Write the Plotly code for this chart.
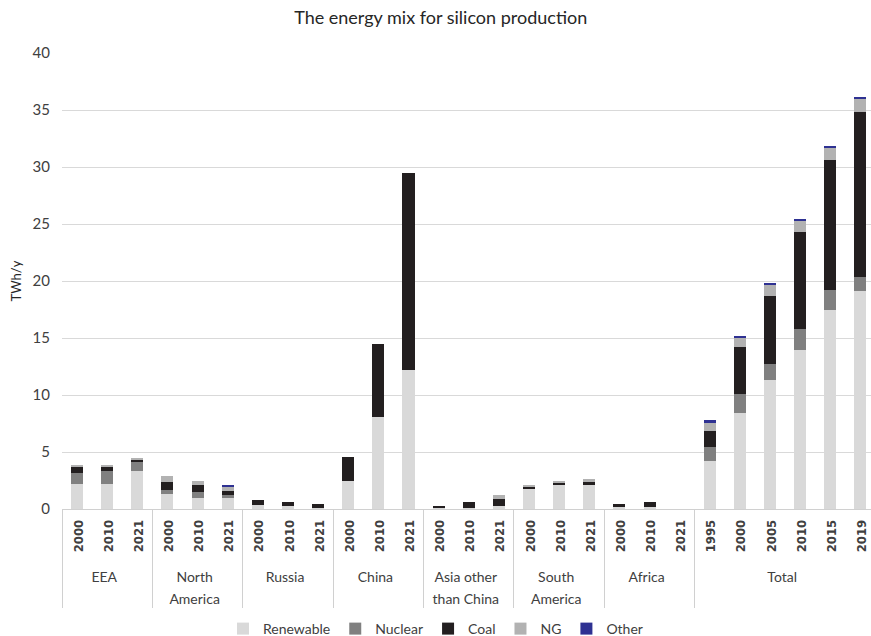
import plotly.graph_objects as go

# Regions and the years reported for each
regions = (["EEA"] * 3 + ["North<br>America"] * 3 + ["Russia"] * 3 + ["China"] * 3
           + ["Asia other<br>than China"] * 3 + ["South<br>America"] * 3 + ["Africa"] * 3
           + ["Total"] * 6)
years = (["2000", "2010", "2021"] * 7
         + ["1995", "2000", "2005", "2010", "2015", "2019"])

# Electricity use by source, TWh/y
renewable = [2.16, 2.16, 3.32, 1.28, 0.99, 0.99, 0.35, 0.28, 0.10,
             2.50, 8.05, 12.20, 0.06, 0.05, 0.23, 1.84, 2.13, 2.13,
             0.15, 0.15, 0.0,
             4.17, 8.45, 11.28, 13.97, 17.46, 19.10]
nuclear = [1.02, 1.17, 0.79, 0.35, 0.50, 0.20, 0.0, 0.0, 0.0,
           0.0, 0.0, 0.0, 0.0, 0.0, 0.0, 0.0, 0.0, 0.0,
           0.0, 0.0, 0.0,
           1.28, 1.60, 1.46, 1.78, 1.72, 1.25]
coal = [0.50, 0.41, 0.20, 0.73, 0.58, 0.38, 0.40, 0.32, 0.35,
        2.10, 6.45, 17.30, 0.23, 0.53, 0.67, 0.17, 0.20, 0.20,
        0.30, 0.45, 0.0,
        1.40, 4.17, 5.98, 8.54, 11.40, 14.49]
ng = [0.20, 0.15, 0.15, 0.52, 0.38, 0.38, 0.0, 0.0, 0.0,
      0.0, 0.0, 0.0, 0.0, 0.0, 0.30, 0.10, 0.12, 0.30,
      0.0, 0.0, 0.0,
      0.76, 0.79, 0.96, 0.93, 1.11, 1.17]
other = [0.0, 0.0, 0.0, 0.0, 0.0, 0.17, 0.0, 0.0, 0.0,
         0.0, 0.0, 0.0, 0.0, 0.0, 0.0, 0.0, 0.0, 0.0,
         0.0, 0.0, 0.0,
         0.17, 0.15, 0.15, 0.20, 0.15, 0.15]

y_ticks = [0, 5, 10, 15, 20, 25, 30, 35, 40]

series = [
    ("Renewable", renewable, "#d9d9d9"),
    ("Nuclear", nuclear, "#808080"),
    ("Coal", coal, "#231f20"),
    ("NG", ng, "#b2b2b2"),
    ("Other", other, "#2e3192"),
]

FONT = "Lato, 'Open Sans', sans-serif"
YEAR_STYLE = ("font-family:'Liberation Sans Narrow','DejaVu Sans Condensed',sans-serif;"
              "font-size:13px;font-weight:bold")
GROUP_STYLE = "font-size:14px"

# Multicategory orders inner labels by first appearance across all groups, so the
# "Total" years get a zero-width suffix to keep them in their own ascending order.
seen = {}
year_keys = []
for reg, yr in zip(regions, years):
    key = yr
    if reg == "Total":
        key = yr + "\u200b"
    year_keys.append(key)


def styled(text, style):
    return "<br>".join(f"<span style=\"{style}\">{part}</span>" for part in text.split("<br>"))


x_outer = [styled(r, GROUP_STYLE) for r in regions]
x_inner = [styled(k, YEAR_STYLE) for k in year_keys]

fig = go.Figure()
for name, vals, color in series:
    fig.add_trace(go.Bar(
        x=[x_outer, x_inner], y=vals, name=name,
        marker=dict(color=color, line=dict(width=0)),
    ))

fig.update_layout(
    barmode="stack",
    bargap=0.6,
    width=871, height=636,
    margin=dict(l=62, r=0, t=53, b=127),
    paper_bgcolor="white",
    plot_bgcolor="white",
    font=dict(family=FONT, size=13, color="#404040"),
    title=dict(
        text="The energy mix for silicon production",
        x=0.506, xref="container", xanchor="center",
        y=0.972, yref="container", yanchor="middle",
        font=dict(family=FONT, size=18, color="#262626"),
    ),
    legend=dict(
        orientation="h",
        x=0.5, xref="container", xanchor="center",
        y=0.011, yref="container", yanchor="middle",
        font=dict(family=FONT, size=14, color="#404040"),
        itemwidth=30,
        traceorder="normal",
    ),
    showlegend=True,
)

fig.update_xaxes(
    type="multicategory",
    range=[-0.5, 26.35],
    tickangle=-90,
    showgrid=False,
    showline=True, linecolor="#d0d0d0", linewidth=1,
    showdividers=True, dividercolor="#d0d0d0", dividerwidth=1,
    ticks="",
    ticklabelstandoff=3,
    tickfont=dict(family=FONT, size=17, color="#404040"),
)
fig.update_yaxes(
    range=[0, 40],
    tickvals=y_ticks,
    showgrid=True, gridcolor="#d9d9d9", gridwidth=1,
    zeroline=False,
    showline=False,
    ticks="",
    ticklabelstandoff=11,
    title=dict(text="TWh/y", standoff=8, font=dict(family=FONT, size=13, color="#262626")),
    tickfont=dict(family=FONT, size=15, color="#404040"),
)

fig.write_html("out.html")
